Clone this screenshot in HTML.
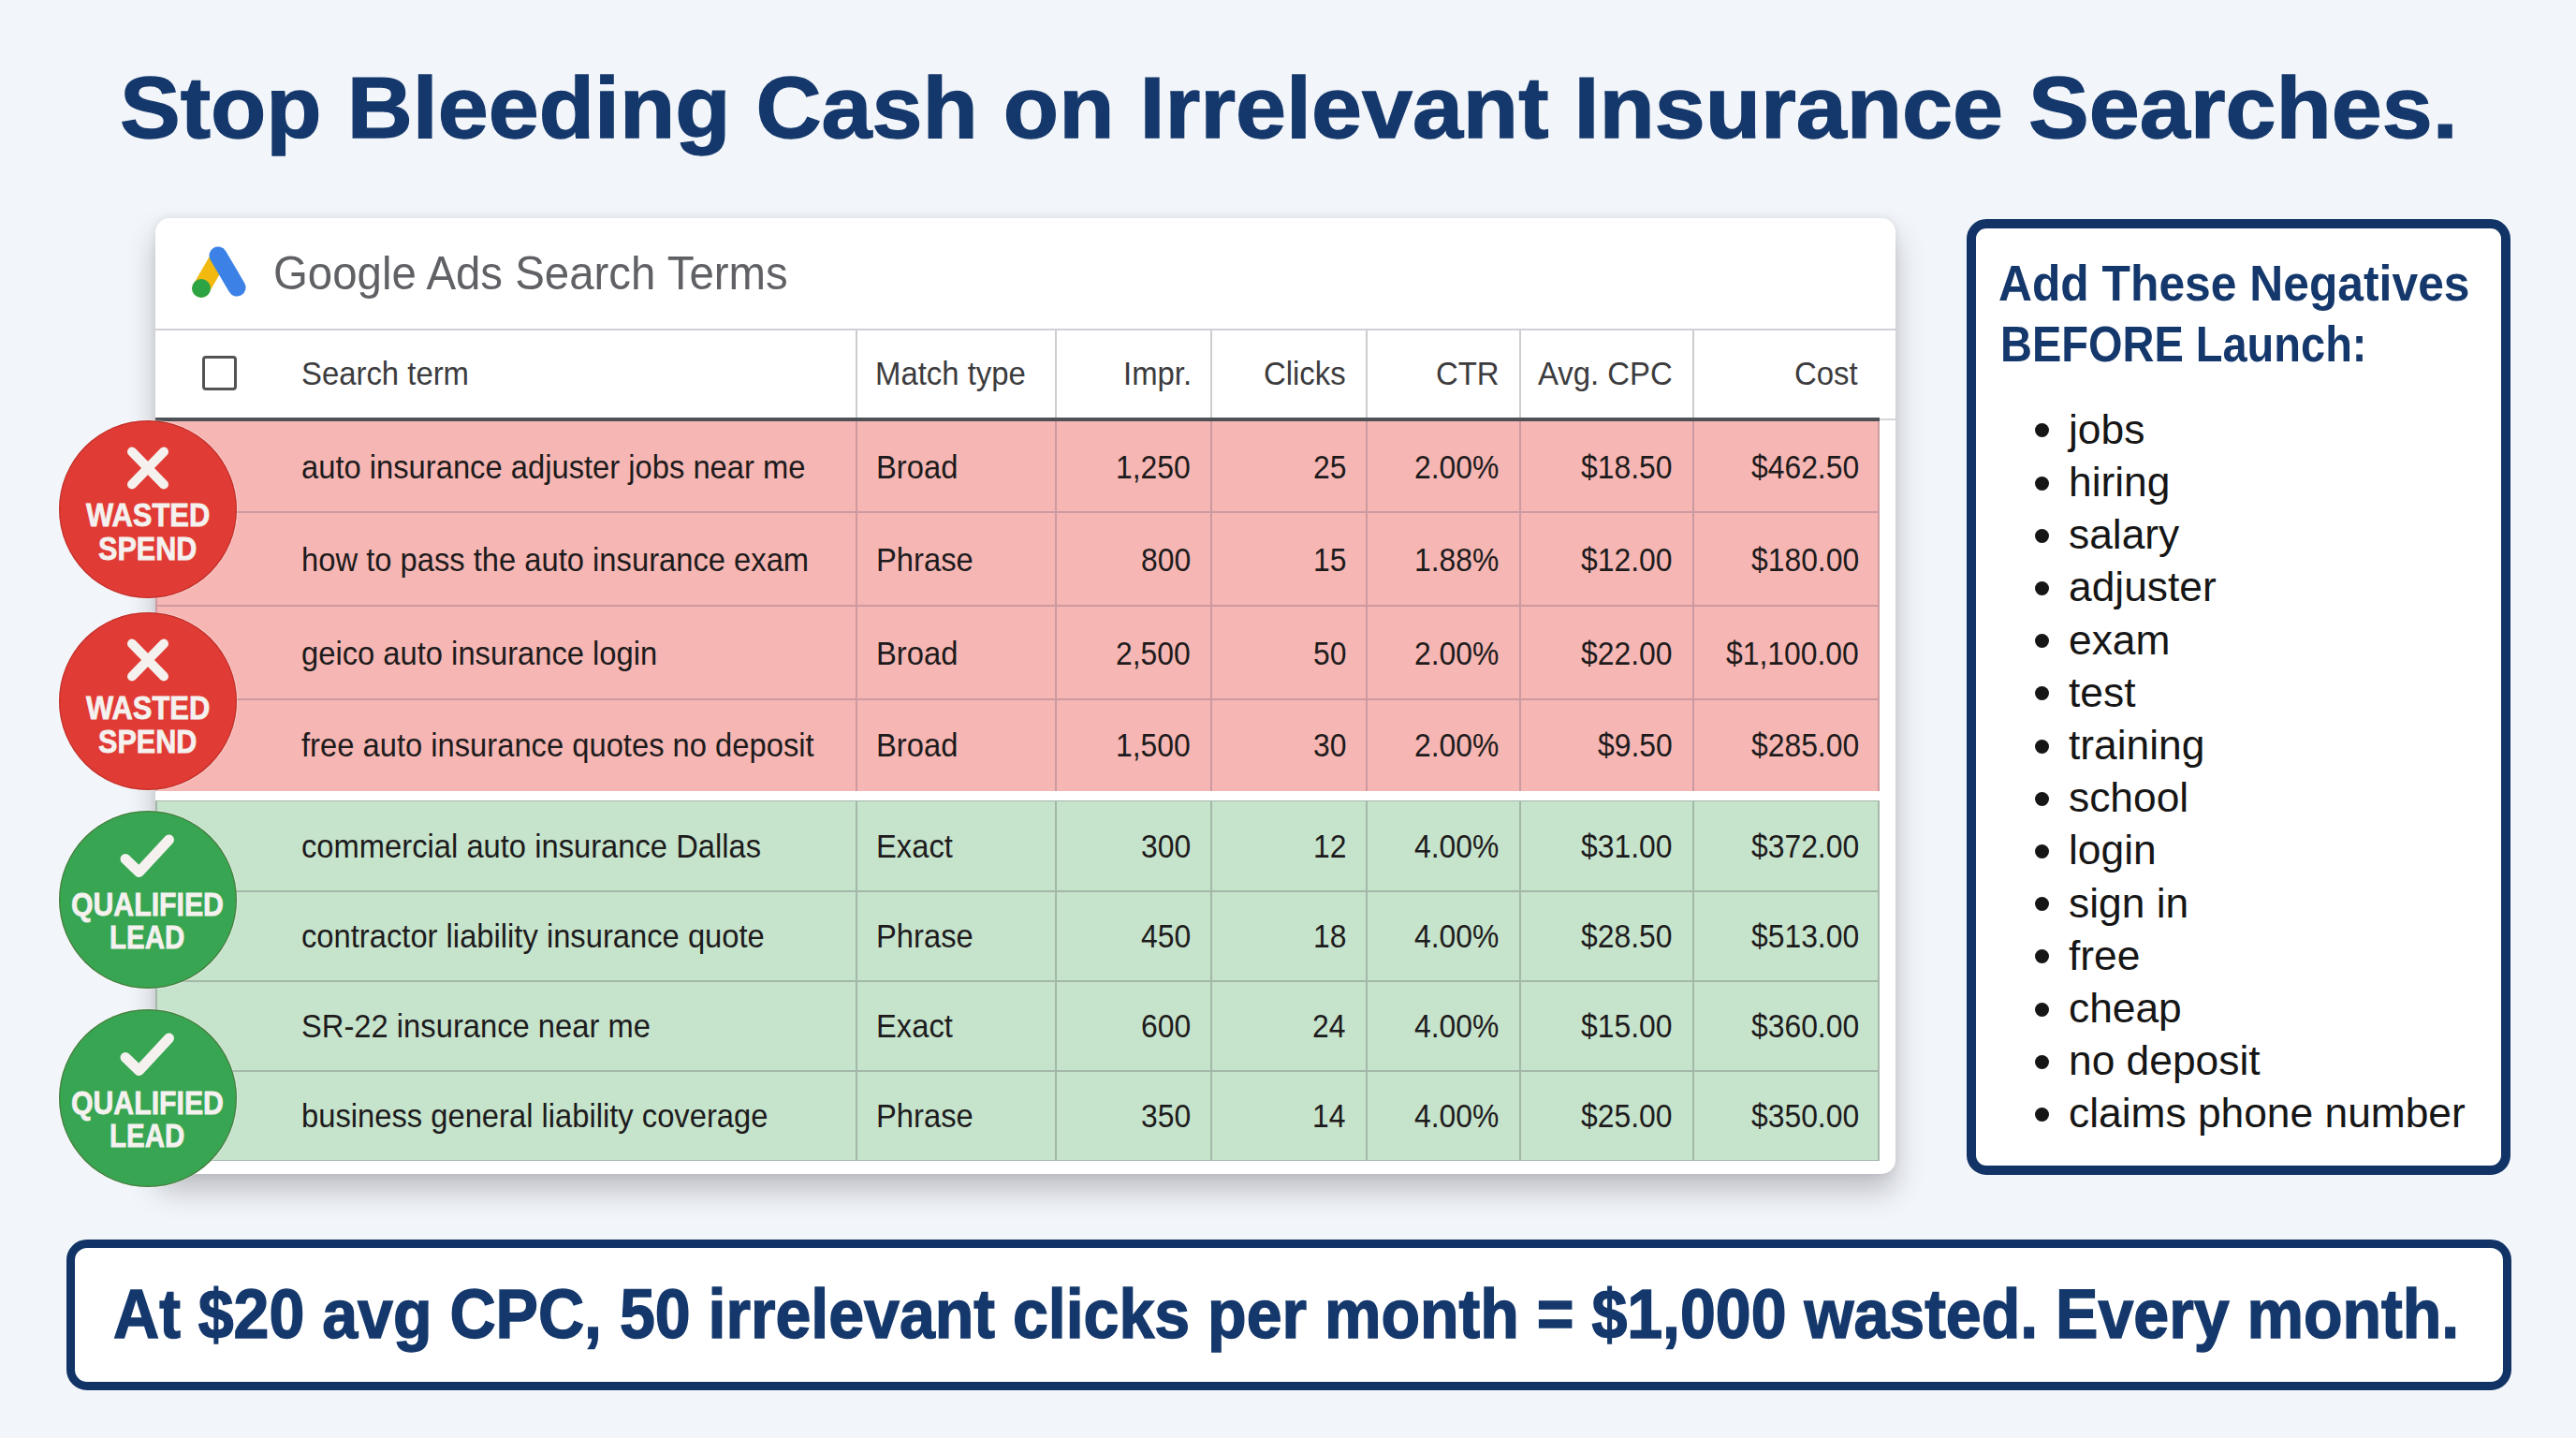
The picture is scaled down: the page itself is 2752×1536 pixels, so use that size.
<!DOCTYPE html>
<html><head><meta charset="utf-8">
<style>
*{margin:0;padding:0;box-sizing:border-box}
html,body{width:2752px;height:1536px;overflow:hidden}
body{background:#f2f5f9;font-family:"Liberation Sans",sans-serif;position:relative}
.a{position:absolute}
.t{position:absolute;white-space:nowrap;line-height:1}
</style></head>
<body>
<div class="t" style="left:128.37px;top:68.98px;font-size:93px;color:#15386c;font-weight:bold;transform:scaleX(1.0438);transform-origin:0 0;-webkit-text-stroke:1.3px #15386c;">Stop Bleeding Cash on Irrelevant Insurance Searches.</div>
<div class="a" style="left:166px;top:233px;width:1859px;height:1021px;background:#fff;border-radius:15px;box-shadow:0 18px 30px rgba(50,50,62,.28),0 0 8px rgba(50,50,62,.10)"></div>
<svg class="a" style="left:195px;top:255px" width="80" height="75" viewBox="0 0 80 75">
<line x1="20" y1="53" x2="38" y2="22" stroke="#f2b90f" stroke-width="19" stroke-linecap="round"/>
<line x1="38" y1="18" x2="58" y2="52" stroke="#3c82e6" stroke-width="19" stroke-linecap="round"/>
<circle cx="20" cy="53" r="10" fill="#2da443"/>
</svg>
<div class="t" style="left:292.10px;top:266.68px;font-size:50px;color:#5f6165;transform:scaleX(0.9479);transform-origin:0 0;">Google Ads Search Terms</div>
<div class="a" style="left:166px;top:351px;width:1859px;height:2px;background:#d3cfd6"></div>
<div class="a" style="left:914.25px;top:353px;width:1.5px;height:93px;background:#cdcdd0"></div>
<div class="a" style="left:1127.25px;top:353px;width:1.5px;height:93px;background:#cdcdd0"></div>
<div class="a" style="left:1293.25px;top:353px;width:1.5px;height:93px;background:#cdcdd0"></div>
<div class="a" style="left:1459.25px;top:353px;width:1.5px;height:93px;background:#cdcdd0"></div>
<div class="a" style="left:1623.25px;top:353px;width:1.5px;height:93px;background:#cdcdd0"></div>
<div class="a" style="left:1808.25px;top:353px;width:1.5px;height:93px;background:#cdcdd0"></div>
<div class="a" style="left:216px;top:380px;width:37px;height:37px;border:3.5px solid #545456;border-radius:4px"></div>
<div class="t" style="left:321.62px;top:381.37px;font-size:35px;color:#3c3c3e;transform:scaleX(0.9390);transform-origin:0 0;">Search term</div>
<div class="t" style="left:935.18px;top:381.37px;font-size:35px;color:#3c3c3e;transform:scaleX(0.9390);transform-origin:0 0;">Match type</div>
<div class="t" style="left:1200.08px;top:381.37px;font-size:35px;color:#3c3c3e;transform:scaleX(0.9390);transform-origin:0 0;">Impr.</div>
<div class="t" style="left:1350.11px;top:381.37px;font-size:35px;color:#3c3c3e;transform:scaleX(0.9390);transform-origin:0 0;">Clicks</div>
<div class="t" style="left:1533.83px;top:381.37px;font-size:35px;color:#3c3c3e;transform:scaleX(0.9390);transform-origin:0 0;">CTR</div>
<div class="t" style="left:1642.77px;top:381.37px;font-size:35px;color:#3c3c3e;transform:scaleX(0.9390);transform-origin:0 0;">Avg. CPC</div>
<div class="t" style="left:1916.89px;top:381.37px;font-size:35px;color:#3c3c3e;transform:scaleX(0.9390);transform-origin:0 0;">Cost</div>
<div class="a" style="left:2008px;top:446.5px;width:17px;height:2px;background:#d6d6da"></div>
<div class="a" style="left:166px;top:445.5px;width:1842px;height:4px;background:#4e5257"></div>
<div class="a" style="left:166px;top:449.5px;width:1842px;height:395.5px;background:#f6b6b3"></div>
<div class="a" style="left:166px;top:546.3px;width:1842px;height:2px;background:#cc9aa0"></div>
<div class="a" style="left:166px;top:646.3px;width:1842px;height:2px;background:#cc9aa0"></div>
<div class="a" style="left:166px;top:746.1px;width:1842px;height:2px;background:#cc9aa0"></div>
<div class="a" style="left:166.0px;top:449.5px;width:2px;height:395.5px;background:#cc9aa0"></div>
<div class="a" style="left:914.0px;top:449.5px;width:2px;height:395.5px;background:#cc9aa0"></div>
<div class="a" style="left:1127.0px;top:449.5px;width:2px;height:395.5px;background:#cc9aa0"></div>
<div class="a" style="left:1293.0px;top:449.5px;width:2px;height:395.5px;background:#cc9aa0"></div>
<div class="a" style="left:1459.0px;top:449.5px;width:2px;height:395.5px;background:#cc9aa0"></div>
<div class="a" style="left:1623.0px;top:449.5px;width:2px;height:395.5px;background:#cc9aa0"></div>
<div class="a" style="left:1808.0px;top:449.5px;width:2px;height:395.5px;background:#cc9aa0"></div>
<div class="a" style="left:2006.0px;top:449.5px;width:2px;height:395.5px;background:#cc9aa0"></div>
<div class="t" style="left:322.20px;top:480.77px;font-size:35px;color:#1d1b1c;transform:scaleX(0.9350);transform-origin:0 0;">auto insurance adjuster jobs near me</div>
<div class="t" style="left:935.50px;top:480.77px;font-size:35px;color:#1d1b1c;transform:scaleX(0.9350);transform-origin:0 0;">Broad</div>
<div class="t" style="left:1192.24px;top:480.77px;font-size:35px;color:#1d1b1c;transform:scaleX(0.9100);transform-origin:0 0;">1,250</div>
<div class="t" style="left:1402.83px;top:480.77px;font-size:35px;color:#1d1b1c;transform:scaleX(0.9100);transform-origin:0 0;">25</div>
<div class="t" style="left:1511.32px;top:480.77px;font-size:35px;color:#1d1b1c;transform:scaleX(0.9100);transform-origin:0 0;">2.00%</div>
<div class="t" style="left:1689.04px;top:480.77px;font-size:35px;color:#1d1b1c;transform:scaleX(0.9100);transform-origin:0 0;">$18.50</div>
<div class="t" style="left:1870.75px;top:480.77px;font-size:35px;color:#1d1b1c;transform:scaleX(0.9100);transform-origin:0 0;">$462.50</div>
<div class="t" style="left:322.20px;top:579.67px;font-size:35px;color:#1d1b1c;transform:scaleX(0.9350);transform-origin:0 0;">how to pass the auto insurance exam</div>
<div class="t" style="left:935.50px;top:579.67px;font-size:35px;color:#1d1b1c;transform:scaleX(0.9350);transform-origin:0 0;">Phrase</div>
<div class="t" style="left:1218.63px;top:579.67px;font-size:35px;color:#1d1b1c;transform:scaleX(0.9100);transform-origin:0 0;">800</div>
<div class="t" style="left:1402.83px;top:579.67px;font-size:35px;color:#1d1b1c;transform:scaleX(0.9100);transform-origin:0 0;">15</div>
<div class="t" style="left:1511.32px;top:579.67px;font-size:35px;color:#1d1b1c;transform:scaleX(0.9100);transform-origin:0 0;">1.88%</div>
<div class="t" style="left:1689.04px;top:579.67px;font-size:35px;color:#1d1b1c;transform:scaleX(0.9100);transform-origin:0 0;">$12.00</div>
<div class="t" style="left:1870.75px;top:579.67px;font-size:35px;color:#1d1b1c;transform:scaleX(0.9100);transform-origin:0 0;">$180.00</div>
<div class="t" style="left:322.20px;top:679.57px;font-size:35px;color:#1d1b1c;transform:scaleX(0.9350);transform-origin:0 0;">geico auto insurance login</div>
<div class="t" style="left:935.50px;top:679.57px;font-size:35px;color:#1d1b1c;transform:scaleX(0.9350);transform-origin:0 0;">Broad</div>
<div class="t" style="left:1192.24px;top:679.57px;font-size:35px;color:#1d1b1c;transform:scaleX(0.9100);transform-origin:0 0;">2,500</div>
<div class="t" style="left:1402.83px;top:679.57px;font-size:35px;color:#1d1b1c;transform:scaleX(0.9100);transform-origin:0 0;">50</div>
<div class="t" style="left:1511.32px;top:679.57px;font-size:35px;color:#1d1b1c;transform:scaleX(0.9100);transform-origin:0 0;">2.00%</div>
<div class="t" style="left:1689.04px;top:679.57px;font-size:35px;color:#1d1b1c;transform:scaleX(0.9100);transform-origin:0 0;">$22.00</div>
<div class="t" style="left:1844.36px;top:679.57px;font-size:35px;color:#1d1b1c;transform:scaleX(0.9100);transform-origin:0 0;">$1,100.00</div>
<div class="t" style="left:322.20px;top:778.42px;font-size:35px;color:#1d1b1c;transform:scaleX(0.9350);transform-origin:0 0;">free auto insurance quotes no deposit</div>
<div class="t" style="left:935.50px;top:778.42px;font-size:35px;color:#1d1b1c;transform:scaleX(0.9350);transform-origin:0 0;">Broad</div>
<div class="t" style="left:1192.24px;top:778.42px;font-size:35px;color:#1d1b1c;transform:scaleX(0.9100);transform-origin:0 0;">1,500</div>
<div class="t" style="left:1402.83px;top:778.42px;font-size:35px;color:#1d1b1c;transform:scaleX(0.9100);transform-origin:0 0;">30</div>
<div class="t" style="left:1511.32px;top:778.42px;font-size:35px;color:#1d1b1c;transform:scaleX(0.9100);transform-origin:0 0;">2.00%</div>
<div class="t" style="left:1707.24px;top:778.42px;font-size:35px;color:#1d1b1c;transform:scaleX(0.9100);transform-origin:0 0;">$9.50</div>
<div class="t" style="left:1870.75px;top:778.42px;font-size:35px;color:#1d1b1c;transform:scaleX(0.9100);transform-origin:0 0;">$285.00</div>
<div class="a" style="left:166px;top:855px;width:1842px;height:2px;background:#a3b8a9"></div>
<div class="a" style="left:166px;top:1238px;width:1842px;height:2px;background:#a3b8a9"></div>
<div class="a" style="left:166px;top:856px;width:1842px;height:383.0px;background:#c6e3cc"></div>
<div class="a" style="left:166px;top:950.7px;width:1842px;height:2px;background:#a3b8a9"></div>
<div class="a" style="left:166px;top:1046.6px;width:1842px;height:2px;background:#a3b8a9"></div>
<div class="a" style="left:166px;top:1142.6px;width:1842px;height:2px;background:#a3b8a9"></div>
<div class="a" style="left:166.0px;top:856px;width:2px;height:383.0px;background:#a3b8a9"></div>
<div class="a" style="left:914.0px;top:856px;width:2px;height:383.0px;background:#a3b8a9"></div>
<div class="a" style="left:1127.0px;top:856px;width:2px;height:383.0px;background:#a3b8a9"></div>
<div class="a" style="left:1293.0px;top:856px;width:2px;height:383.0px;background:#a3b8a9"></div>
<div class="a" style="left:1459.0px;top:856px;width:2px;height:383.0px;background:#a3b8a9"></div>
<div class="a" style="left:1623.0px;top:856px;width:2px;height:383.0px;background:#a3b8a9"></div>
<div class="a" style="left:1808.0px;top:856px;width:2px;height:383.0px;background:#a3b8a9"></div>
<div class="a" style="left:2006.0px;top:856px;width:2px;height:383.0px;background:#a3b8a9"></div>
<div class="t" style="left:322.20px;top:886.22px;font-size:35px;color:#1d1b1c;transform:scaleX(0.9350);transform-origin:0 0;">commercial auto insurance Dallas</div>
<div class="t" style="left:935.50px;top:886.22px;font-size:35px;color:#1d1b1c;transform:scaleX(0.9350);transform-origin:0 0;">Exact</div>
<div class="t" style="left:1218.63px;top:886.22px;font-size:35px;color:#1d1b1c;transform:scaleX(0.9100);transform-origin:0 0;">300</div>
<div class="t" style="left:1402.83px;top:886.22px;font-size:35px;color:#1d1b1c;transform:scaleX(0.9100);transform-origin:0 0;">12</div>
<div class="t" style="left:1511.32px;top:886.22px;font-size:35px;color:#1d1b1c;transform:scaleX(0.9100);transform-origin:0 0;">4.00%</div>
<div class="t" style="left:1689.04px;top:886.22px;font-size:35px;color:#1d1b1c;transform:scaleX(0.9100);transform-origin:0 0;">$31.00</div>
<div class="t" style="left:1870.75px;top:886.22px;font-size:35px;color:#1d1b1c;transform:scaleX(0.9100);transform-origin:0 0;">$372.00</div>
<div class="t" style="left:322.20px;top:982.02px;font-size:35px;color:#1d1b1c;transform:scaleX(0.9350);transform-origin:0 0;">contractor liability insurance quote</div>
<div class="t" style="left:935.50px;top:982.02px;font-size:35px;color:#1d1b1c;transform:scaleX(0.9350);transform-origin:0 0;">Phrase</div>
<div class="t" style="left:1218.63px;top:982.02px;font-size:35px;color:#1d1b1c;transform:scaleX(0.9100);transform-origin:0 0;">450</div>
<div class="t" style="left:1402.83px;top:982.02px;font-size:35px;color:#1d1b1c;transform:scaleX(0.9100);transform-origin:0 0;">18</div>
<div class="t" style="left:1511.32px;top:982.02px;font-size:35px;color:#1d1b1c;transform:scaleX(0.9100);transform-origin:0 0;">4.00%</div>
<div class="t" style="left:1689.04px;top:982.02px;font-size:35px;color:#1d1b1c;transform:scaleX(0.9100);transform-origin:0 0;">$28.50</div>
<div class="t" style="left:1870.75px;top:982.02px;font-size:35px;color:#1d1b1c;transform:scaleX(0.9100);transform-origin:0 0;">$513.00</div>
<div class="t" style="left:322.20px;top:1077.97px;font-size:35px;color:#1d1b1c;transform:scaleX(0.9350);transform-origin:0 0;">SR-22 insurance near me</div>
<div class="t" style="left:935.50px;top:1077.97px;font-size:35px;color:#1d1b1c;transform:scaleX(0.9350);transform-origin:0 0;">Exact</div>
<div class="t" style="left:1218.63px;top:1077.97px;font-size:35px;color:#1d1b1c;transform:scaleX(0.9100);transform-origin:0 0;">600</div>
<div class="t" style="left:1401.92px;top:1077.97px;font-size:35px;color:#1d1b1c;transform:scaleX(0.9100);transform-origin:0 0;">24</div>
<div class="t" style="left:1511.32px;top:1077.97px;font-size:35px;color:#1d1b1c;transform:scaleX(0.9100);transform-origin:0 0;">4.00%</div>
<div class="t" style="left:1689.04px;top:1077.97px;font-size:35px;color:#1d1b1c;transform:scaleX(0.9100);transform-origin:0 0;">$15.00</div>
<div class="t" style="left:1870.75px;top:1077.97px;font-size:35px;color:#1d1b1c;transform:scaleX(0.9100);transform-origin:0 0;">$360.00</div>
<div class="t" style="left:322.20px;top:1173.67px;font-size:35px;color:#1d1b1c;transform:scaleX(0.9350);transform-origin:0 0;">business general liability coverage</div>
<div class="t" style="left:935.50px;top:1173.67px;font-size:35px;color:#1d1b1c;transform:scaleX(0.9350);transform-origin:0 0;">Phrase</div>
<div class="t" style="left:1218.63px;top:1173.67px;font-size:35px;color:#1d1b1c;transform:scaleX(0.9100);transform-origin:0 0;">350</div>
<div class="t" style="left:1401.92px;top:1173.67px;font-size:35px;color:#1d1b1c;transform:scaleX(0.9100);transform-origin:0 0;">14</div>
<div class="t" style="left:1511.32px;top:1173.67px;font-size:35px;color:#1d1b1c;transform:scaleX(0.9100);transform-origin:0 0;">4.00%</div>
<div class="t" style="left:1689.04px;top:1173.67px;font-size:35px;color:#1d1b1c;transform:scaleX(0.9100);transform-origin:0 0;">$25.00</div>
<div class="t" style="left:1870.75px;top:1173.67px;font-size:35px;color:#1d1b1c;transform:scaleX(0.9100);transform-origin:0 0;">$350.00</div>
<div class="a" style="left:63px;top:448.8px;width:190px;height:190px;border-radius:50%;background:#e13b35;box-shadow:inset 0 0 0 1.2px rgba(110,20,15,.28),0 0 0 1px rgba(255,255,255,.3)"></div>
<svg class="a" style="left:127.5px;top:469.8px" width="60" height="60" viewBox="0 0 60 60">
<path d="M13 12.5 L47 47.5 M47 12.5 L13 47.5" stroke="#f4f1ef" stroke-width="10" stroke-linecap="round"/></svg>
<div class="t" style="left:92.35px;top:532.17px;font-size:35px;color:#f4f1ef;font-weight:bold;transform:scaleX(0.8831);transform-origin:0 0;-webkit-text-stroke:0.8px #f4f1ef;">WASTED</div>
<div class="t" style="left:105.33px;top:568.17px;font-size:35px;color:#f4f1ef;font-weight:bold;transform:scaleX(0.8729);transform-origin:0 0;-webkit-text-stroke:0.8px #f4f1ef;">SPEND</div>
<div class="a" style="left:63px;top:654.2px;width:190px;height:190px;border-radius:50%;background:#e13b35;box-shadow:inset 0 0 0 1.2px rgba(110,20,15,.28),0 0 0 1px rgba(255,255,255,.3)"></div>
<svg class="a" style="left:127.5px;top:675.2px" width="60" height="60" viewBox="0 0 60 60">
<path d="M13 12.5 L47 47.5 M47 12.5 L13 47.5" stroke="#f4f1ef" stroke-width="10" stroke-linecap="round"/></svg>
<div class="t" style="left:92.35px;top:737.57px;font-size:35px;color:#f4f1ef;font-weight:bold;transform:scaleX(0.8831);transform-origin:0 0;-webkit-text-stroke:0.8px #f4f1ef;">WASTED</div>
<div class="t" style="left:105.33px;top:773.57px;font-size:35px;color:#f4f1ef;font-weight:bold;transform:scaleX(0.8729);transform-origin:0 0;-webkit-text-stroke:0.8px #f4f1ef;">SPEND</div>
<div class="a" style="left:63px;top:865.5px;width:190px;height:190px;border-radius:50%;background:#38a552;box-shadow:inset 0 0 0 1.2px rgba(110,20,15,.28),0 0 0 1px rgba(255,255,255,.3)"></div>
<svg class="a" style="left:123px;top:885.5px" width="70" height="60" viewBox="0 0 70 60">
<path d="M11 31.5 L25.5 45.5 L57.5 11" fill="none" stroke="#f4f1ef" stroke-width="11" stroke-linecap="round" stroke-linejoin="round"/></svg>
<div class="t" style="left:76.29px;top:947.87px;font-size:35px;color:#f4f1ef;font-weight:bold;transform:scaleX(0.8640);transform-origin:0 0;-webkit-text-stroke:0.8px #f4f1ef;">QUALIFIED</div>
<div class="t" style="left:117.12px;top:982.87px;font-size:35px;color:#f4f1ef;font-weight:bold;transform:scaleX(0.8413);transform-origin:0 0;-webkit-text-stroke:0.8px #f4f1ef;">LEAD</div>
<div class="a" style="left:63px;top:1078.0px;width:190px;height:190px;border-radius:50%;background:#38a552;box-shadow:inset 0 0 0 1.2px rgba(110,20,15,.28),0 0 0 1px rgba(255,255,255,.3)"></div>
<svg class="a" style="left:123px;top:1098.0px" width="70" height="60" viewBox="0 0 70 60">
<path d="M11 31.5 L25.5 45.5 L57.5 11" fill="none" stroke="#f4f1ef" stroke-width="11" stroke-linecap="round" stroke-linejoin="round"/></svg>
<div class="t" style="left:76.29px;top:1160.37px;font-size:35px;color:#f4f1ef;font-weight:bold;transform:scaleX(0.8640);transform-origin:0 0;-webkit-text-stroke:0.8px #f4f1ef;">QUALIFIED</div>
<div class="t" style="left:117.12px;top:1195.37px;font-size:35px;color:#f4f1ef;font-weight:bold;transform:scaleX(0.8413);transform-origin:0 0;-webkit-text-stroke:0.8px #f4f1ef;">LEAD</div>
<div class="a" style="left:2100.5px;top:233.5px;width:581.5px;height:1021px;background:#fff;border:10px solid #113366;border-radius:21px"></div>
<div class="t" style="left:2135.38px;top:275.49px;font-size:54px;color:#15386c;font-weight:bold;transform:scaleX(0.9219);transform-origin:0 0;">Add These Negatives</div>
<div class="t" style="left:2137.19px;top:339.59px;font-size:54px;color:#15386c;font-weight:bold;transform:scaleX(0.8699);transform-origin:0 0;">BEFORE Launch:</div>
<div class="a" style="left:2174.0px;top:452.3px;width:15px;height:15px;border-radius:50%;background:#161616"></div>
<div class="t" style="left:2209.70px;top:435.71px;font-size:45px;color:#161616;transform:scaleX(0.9850);transform-origin:0 0;">jobs</div>
<div class="a" style="left:2174.0px;top:508.5px;width:15px;height:15px;border-radius:50%;background:#161616"></div>
<div class="t" style="left:2209.70px;top:491.91px;font-size:45px;color:#161616;transform:scaleX(0.9850);transform-origin:0 0;">hiring</div>
<div class="a" style="left:2174.0px;top:564.7px;width:15px;height:15px;border-radius:50%;background:#161616"></div>
<div class="t" style="left:2209.70px;top:548.11px;font-size:45px;color:#161616;transform:scaleX(0.9850);transform-origin:0 0;">salary</div>
<div class="a" style="left:2174.0px;top:620.9px;width:15px;height:15px;border-radius:50%;background:#161616"></div>
<div class="t" style="left:2209.70px;top:604.31px;font-size:45px;color:#161616;transform:scaleX(0.9850);transform-origin:0 0;">adjuster</div>
<div class="a" style="left:2174.0px;top:677.1px;width:15px;height:15px;border-radius:50%;background:#161616"></div>
<div class="t" style="left:2209.70px;top:660.51px;font-size:45px;color:#161616;transform:scaleX(0.9850);transform-origin:0 0;">exam</div>
<div class="a" style="left:2174.0px;top:733.3px;width:15px;height:15px;border-radius:50%;background:#161616"></div>
<div class="t" style="left:2209.70px;top:716.71px;font-size:45px;color:#161616;transform:scaleX(0.9850);transform-origin:0 0;">test</div>
<div class="a" style="left:2174.0px;top:789.5px;width:15px;height:15px;border-radius:50%;background:#161616"></div>
<div class="t" style="left:2209.70px;top:772.91px;font-size:45px;color:#161616;transform:scaleX(0.9850);transform-origin:0 0;">training</div>
<div class="a" style="left:2174.0px;top:845.7px;width:15px;height:15px;border-radius:50%;background:#161616"></div>
<div class="t" style="left:2209.70px;top:829.11px;font-size:45px;color:#161616;transform:scaleX(0.9850);transform-origin:0 0;">school</div>
<div class="a" style="left:2174.0px;top:901.9px;width:15px;height:15px;border-radius:50%;background:#161616"></div>
<div class="t" style="left:2209.70px;top:885.31px;font-size:45px;color:#161616;transform:scaleX(0.9850);transform-origin:0 0;">login</div>
<div class="a" style="left:2174.0px;top:958.1px;width:15px;height:15px;border-radius:50%;background:#161616"></div>
<div class="t" style="left:2209.70px;top:941.51px;font-size:45px;color:#161616;transform:scaleX(0.9850);transform-origin:0 0;">sign in</div>
<div class="a" style="left:2174.0px;top:1014.3px;width:15px;height:15px;border-radius:50%;background:#161616"></div>
<div class="t" style="left:2209.70px;top:997.71px;font-size:45px;color:#161616;transform:scaleX(0.9850);transform-origin:0 0;">free</div>
<div class="a" style="left:2174.0px;top:1070.5px;width:15px;height:15px;border-radius:50%;background:#161616"></div>
<div class="t" style="left:2209.70px;top:1053.91px;font-size:45px;color:#161616;transform:scaleX(0.9850);transform-origin:0 0;">cheap</div>
<div class="a" style="left:2174.0px;top:1126.7px;width:15px;height:15px;border-radius:50%;background:#161616"></div>
<div class="t" style="left:2209.70px;top:1110.11px;font-size:45px;color:#161616;transform:scaleX(0.9850);transform-origin:0 0;">no deposit</div>
<div class="a" style="left:2174.0px;top:1182.9px;width:15px;height:15px;border-radius:50%;background:#161616"></div>
<div class="t" style="left:2209.70px;top:1166.31px;font-size:45px;color:#161616;transform:scaleX(0.9850);transform-origin:0 0;">claims phone number</div>
<div class="a" style="left:70.5px;top:1324px;width:2612px;height:161px;background:#fff;border:9.5px solid #113366;border-radius:22px"></div>
<div class="t" style="left:121.46px;top:1366.86px;font-size:74px;color:#15386c;font-weight:bold;transform:scaleX(0.9198);transform-origin:0 0;-webkit-text-stroke:1.5px #15386c;">At $20 avg CPC, 50 irrelevant clicks per month = $1,000 wasted. Every month.</div>
</body></html>
